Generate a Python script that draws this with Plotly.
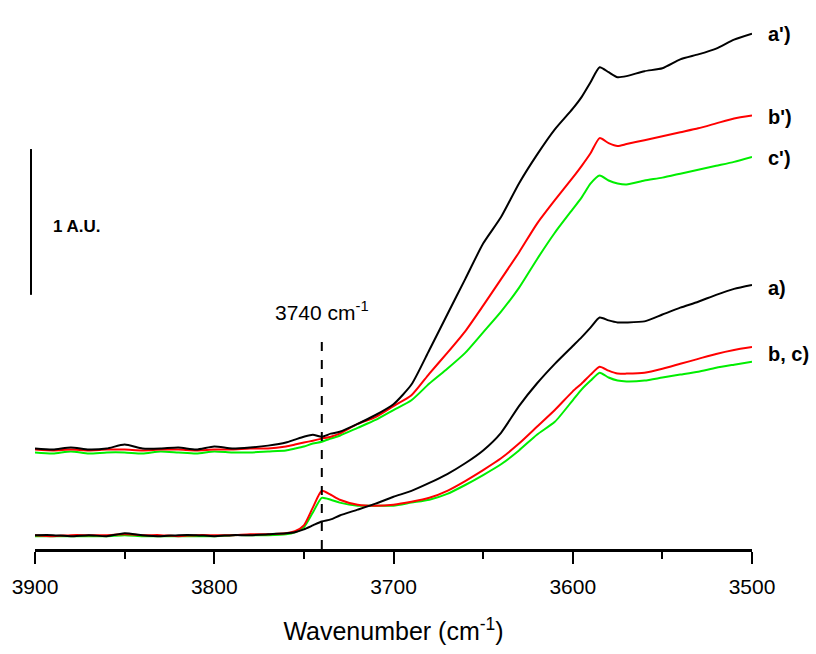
import plotly.graph_objects as go

# Wavenumber (cm^-1)
wavenumber = [3900, 3890, 3880, 3870, 3860, 3850, 3840, 3830, 3820, 3810, 3800, 3790, 3780, 3770, 3760,
              3755, 3750, 3745, 3740, 3735, 3730,
              3720, 3710, 3700, 3690, 3680, 3670, 3660, 3650, 3640, 3630, 3620, 3610, 3600,
              3595, 3590, 3585, 3580, 3575, 3570,
              3560, 3550, 3540, 3530, 3520, 3510, 3500]

# Absorbance (A.U.), lower set
a = [0.095, 0.095, 0.088, 0.095, 0.088, 0.108, 0.095, 0.088, 0.095, 0.095, 0.088, 0.095, 0.095, 0.101, 0.108,
     0.115, 0.135, 0.162, 0.189, 0.203, 0.230,
     0.270, 0.311, 0.358, 0.399, 0.453, 0.514, 0.588, 0.676, 0.797, 0.980, 1.135, 1.270, 1.392,
     1.453, 1.520, 1.588, 1.568, 1.554, 1.554,
     1.561, 1.608, 1.655, 1.696, 1.743, 1.784, 1.811]
b = [0.095, 0.088, 0.095, 0.095, 0.095, 0.101, 0.095, 0.095, 0.088, 0.095, 0.095, 0.095, 0.101, 0.101, 0.108,
     0.122, 0.162, 0.284, 0.399, 0.372, 0.338,
     0.304, 0.297, 0.304, 0.324, 0.351, 0.399, 0.466, 0.541, 0.622, 0.723, 0.838, 0.953, 1.081,
     1.135, 1.196, 1.250, 1.223, 1.203, 1.203,
     1.209, 1.236, 1.270, 1.304, 1.338, 1.365, 1.385]
c = [0.088, 0.088, 0.088, 0.088, 0.088, 0.095, 0.088, 0.088, 0.088, 0.088, 0.088, 0.095, 0.095, 0.095, 0.101,
     0.115, 0.149, 0.250, 0.351, 0.338, 0.318,
     0.297, 0.297, 0.297, 0.318, 0.338, 0.378, 0.439, 0.507, 0.581, 0.676, 0.784, 0.872, 1.020,
     1.095, 1.155, 1.209, 1.176, 1.155, 1.149,
     1.155, 1.176, 1.196, 1.216, 1.243, 1.264, 1.284]

# Absorbance (A.U.), upper set
a_p = [0.689, 0.682, 0.696, 0.682, 0.689, 0.716, 0.689, 0.689, 0.696, 0.682, 0.703, 0.689, 0.696, 0.709, 0.730,
       0.750, 0.770, 0.784, 0.770, 0.791, 0.804,
       0.858, 0.919, 0.993, 1.128, 1.365, 1.608, 1.851, 2.095, 2.277, 2.507, 2.703, 2.878, 3.020,
       3.101, 3.203, 3.304, 3.270, 3.236, 3.243,
       3.277, 3.297, 3.358, 3.392, 3.432, 3.493, 3.534]
b_p = [0.682, 0.676, 0.682, 0.676, 0.682, 0.682, 0.676, 0.682, 0.682, 0.676, 0.682, 0.682, 0.689, 0.689, 0.703,
       0.716, 0.730, 0.743, 0.757, 0.770, 0.791,
       0.858, 0.905, 0.980, 1.054, 1.203, 1.345, 1.493, 1.669, 1.851, 2.034, 2.230, 2.392, 2.547,
       2.628, 2.716, 2.818, 2.784, 2.764, 2.777,
       2.804, 2.831, 2.858, 2.885, 2.919, 2.953, 2.973]
c_p = [0.662, 0.655, 0.669, 0.655, 0.662, 0.662, 0.655, 0.669, 0.662, 0.655, 0.669, 0.662, 0.662, 0.669, 0.676,
       0.689, 0.703, 0.723, 0.736, 0.757, 0.777,
       0.831, 0.885, 0.953, 1.020, 1.135, 1.236, 1.345, 1.486, 1.628, 1.791, 1.986, 2.169, 2.331,
       2.412, 2.507, 2.561, 2.527, 2.507, 2.500,
       2.527, 2.547, 2.574, 2.601, 2.628, 2.655, 2.689]

tick_vals = [3900, 3800, 3700, 3600, 3500]
marker_wn = 3740

BLACK = "#000000"
RED = "#ff0000"
GREEN = "#00ee00"
FONT = "Liberation Sans, Arial, sans-serif"

fig = go.Figure()
series = [(c, GREEN), (b, RED), (a, BLACK), (c_p, GREEN), (b_p, RED), (a_p, BLACK)]
for ys, col in series:
    fig.add_trace(go.Scatter(x=wavenumber, y=ys, mode="lines",
                             line=dict(color=col, width=2, shape="spline", smoothing=0.6),
                             showlegend=False, hoverinfo="skip"))

# dashed marker line at 3740
fig.add_shape(type="line", xref="x", yref="y", x0=marker_wn, x1=marker_wn, y0=0, y1=1.466,
              line=dict(color=BLACK, width=2, dash="dash"))
fig.add_annotation(x=marker_wn, y=1.635, xref="x", yref="y", text="3740 cm<sup>-1</sup>",
                   showarrow=False, font=dict(family=FONT, size=21, color=BLACK))

# scale bar (1 A.U.)
fig.add_shape(type="line", xref="paper", yref="y", x0=-0.0056, x1=-0.0056, y0=1.743, y1=2.743,
              line=dict(color=BLACK, width=2))
fig.add_annotation(x=0.0223, y=2.209, xref="paper", yref="y", text="<b>1 A.U.</b>",
                   xanchor="left", showarrow=False, font=dict(family=FONT, size=17, color=BLACK))

labels = [("a')", 3.534), ("b')", 2.966), ("c')", 2.682), ("a)", 1.791), ("b, c)", 1.338)]
for txt, yv in labels:
    fig.add_annotation(x=1.019, y=yv, xref="paper", yref="y", text="<b>%s</b>" % txt,
                       xanchor="left", showarrow=False, font=dict(family=FONT, size=20, color=BLACK))

fig.update_layout(
    width=816, height=654,
    margin=dict(l=34, r=64, t=20, b=97),
    paper_bgcolor="white", plot_bgcolor="white",
    xaxis=dict(range=[3900, 3500], tickvals=tick_vals, ticks="outside", ticklen=12, tickwidth=2,
               tickcolor=BLACK, showline=True, linecolor=BLACK, linewidth=3, showgrid=False,
               zeroline=False, ticklabelstandoff=5,
               tickfont=dict(family=FONT, size=21, color=BLACK),
               minor=dict(dtick=50, ticks="outside", ticklen=7, tickwidth=2, tickcolor=BLACK, showgrid=False),
               title=dict(text="Wavenumber (cm<sup>-1</sup>)", standoff=26,
                          font=dict(family=FONT, size=25, color=BLACK))),
    yaxis=dict(range=[0, 3.628], visible=False, showgrid=False, zeroline=False),
)

fig.write_html("out.html", config={"displayModeBar": False},
               post_script="document.body.style.margin='0px';document.body.style.overflow='hidden';")
